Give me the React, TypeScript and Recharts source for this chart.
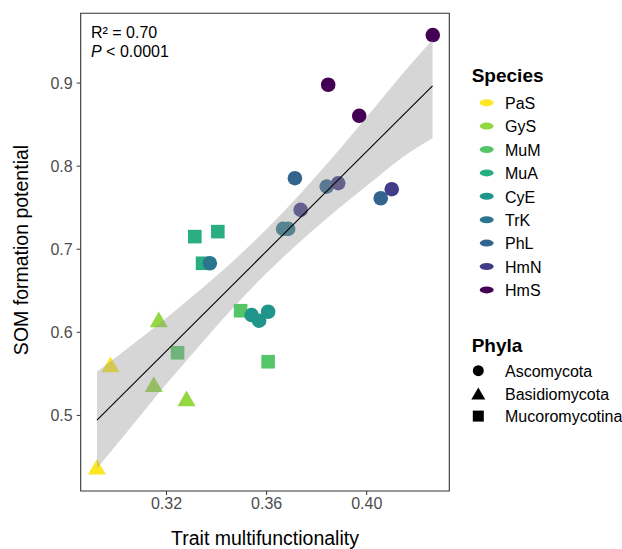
import React from "react";
import {
  ComposedChart,
  Scatter,
  Area,
  Line,
  XAxis,
  YAxis,
  ReferenceArea,
} from "recharts";

const FONT = '"Liberation Sans", Arial, Helvetica, sans-serif';

// species legend order + colours (viridis-like)
const species = ["PaS", "GyS", "MuM", "MuA", "CyE", "TrK", "PhL", "HmN", "HmS"];
const speciesColors = [
  "#fde725",
  "#93d741",
  "#55c667",
  "#29af7f",
  "#1f958b",
  "#2a768e",
  "#33648e",
  "#413d87",
  "#440154",
];
const speciesPhylum = [
  "Basidiomycota",
  "Basidiomycota",
  "Mucoromycotina",
  "Mucoromycotina",
  "Ascomycota",
  "Ascomycota",
  "Ascomycota",
  "Ascomycota",
  "Ascomycota",
];
const phyla = ["Ascomycota", "Basidiomycota", "Mucoromycotina"];

// trait multifunctionality (x) and SOM formation potential (y) per species
const pasX = [0.2976, 0.2922];
const pasY = [0.5614, 0.4381];
const gysX = [0.3169, 0.3149, 0.328];
const gysY = [0.6156, 0.5377, 0.5205];
const mumX = [0.3496, 0.3606, 0.3244];
const mumY = [0.626, 0.5646, 0.5754];
const muaX = [0.3313, 0.3405, 0.3344];
const muaY = [0.7152, 0.7212, 0.6831];
const cyeX = [0.354, 0.357, 0.3606];
const cyeY = [0.6208, 0.614, 0.6248];
const trkX = [0.3666, 0.3686, 0.3373];
const trkY = [0.7245, 0.7245, 0.6831];
const phlX = [0.3713, 0.4056, 0.384];
const phlY = [0.7855, 0.7614, 0.7754];
const hmnX = [0.41, 0.3886, 0.3736];
const hmnY = [0.7723, 0.7795, 0.7474];
const hmsX = [0.4264, 0.3846, 0.397];
const hmsY = [0.9578, 0.898, 0.8606];

const xs = [pasX, gysX, mumX, muaX, cyeX, trkX, phlX, hmnX, hmsX];
const ys = [pasY, gysY, mumY, muaY, cyeY, trkY, phlY, hmnY, hmsY];

// fitted line and its confidence band
const fitX = [0.2922, 0.4263];
const fitY = [0.4944, 0.8967];
const bandX = [0.2922, 0.305, 0.3169, 0.33, 0.345, 0.36, 0.375, 0.39, 0.405, 0.415, 0.4263];
const bandLow = [0.4361, 0.483, 0.527, 0.5731, 0.6242, 0.6713, 0.7136, 0.7521, 0.7885, 0.8121, 0.8337];
const bandHigh = [0.5525, 0.582, 0.61, 0.6425, 0.6814, 0.7243, 0.772, 0.8235, 0.8771, 0.9135, 0.9522];

const xTicks = [0.32, 0.36, 0.4];
const yTicks = [0.5, 0.6, 0.7, 0.8, 0.9];
const xDomain: [number, number] = [0.2857, 0.433];
const yDomain: [number, number] = [0.409, 0.984];

const bandData = bandX.map((x, i) => ({ x, band: [bandLow[i], bandHigh[i]] }));
const fitData = fitX.map((x, i) => ({ x, y: fitY[i] }));

function Marker(props: any) {
  const { cx, cy, fill, kind } = props;
  if (cx == null || cy == null) return null;
  if (kind === "Basidiomycota") {
    const w = 18;
    const h = 15.6;
    return (
      <polygon
        points={`${cx - w / 2},${cy + h / 2} ${cx + w / 2},${cy + h / 2} ${cx},${cy - h / 2}`}
        fill={fill}
      />
    );
  }
  if (kind === "Mucoromycotina") {
    return <rect x={cx - 6.8} y={cy - 6.8} width={13.6} height={13.6} fill={fill} />;
  }
  return <circle cx={cx} cy={cy} r={7.3} fill={fill} />;
}

function PhylumKey({ kind, x, y }: { kind: string; x: number; y: number }) {
  if (kind === "Basidiomycota") {
    return <polygon points={`${x - 7},${y + 6} ${x + 7},${y + 6} ${x},${y - 6}`} fill="#000" />;
  }
  if (kind === "Mucoromycotina") {
    return <rect x={x - 5.5} y={y - 5.5} width={11} height={11} fill="#000" />;
  }
  return <circle cx={x} cy={y} r={5.5} fill="#000" />;
}

export default function App() {
  const tickStyle = { fontSize: 16, fill: "#4d4d4d", fontFamily: FONT };
  return (
    <div style={{ position: "relative", width: 622, height: 549, background: "#fff" }}>
      <style>{"body{margin:0}"}</style>
      <ComposedChart
        width={622}
        height={549}
        margin={{ top: 13.3, right: 172.7, bottom: 28, left: 0 }}
      >
        <XAxis
          type="number"
          dataKey="x"
          domain={xDomain}
          ticks={xTicks}
          allowDataOverflow
          tickFormatter={(v) => v.toFixed(2)}
          axisLine={false}
          tickLine={{ stroke: "#333" }}
          tickSize={4}
          tickMargin={3}
          height={30}
          tick={tickStyle}
        />
        <YAxis
          type="number"
          domain={yDomain}
          ticks={yTicks}
          allowDataOverflow
          tickFormatter={(v) => v.toFixed(1)}
          axisLine={false}
          tickLine={{ stroke: "#333" }}
          tickSize={4}
          tickMargin={4}
          width={80.7}
          tick={tickStyle}
        />
        {species.map((s, i) => (
          <Scatter
            key={s}
            name={s}
            data={xs[i].map((x, j) => ({ x, y: ys[i][j] }))}
            dataKey="y"
            fill={speciesColors[i]}
            isAnimationActive={false}
            shape={(p: any) => <Marker {...p} fill={speciesColors[i]} kind={speciesPhylum[i]} />}
          />
        ))}
        <Area
          data={bandData}
          dataKey="band"
          type="monotone"
          stroke="none"
          fill="#999999"
          fillOpacity={0.4}
          isAnimationActive={false}
          zIndex={700}
        />
        <Line
          data={fitData}
          dataKey="y"
          stroke="#000"
          strokeWidth={1.1}
          dot={false}
          activeDot={false}
          isAnimationActive={false}
          zIndex={800}
        />
        <ReferenceArea
          x1={xDomain[0]}
          x2={xDomain[1]}
          y1={yDomain[0]}
          y2={yDomain[1]}
          fill="none"
          stroke="#333"
          strokeWidth={1.1}
          zIndex={900}
        />
      </ComposedChart>
      <svg
        width={622}
        height={549}
        style={{ position: "absolute", left: 0, top: 0, pointerEvents: "none" }}
        fontFamily={FONT}
      >
        <text x={91} y={37.7} fontSize={16} fill="#000">
          R² = 0.70
        </text>
        <text x={91} y={56.7} fontSize={16} fill="#000">
          <tspan fontStyle="italic">P</tspan>
          <tspan> &lt; 0.0001</tspan>
        </text>
        <text x={265} y={545} fontSize={19.5} textAnchor="middle" fill="#000">
          Trait multifunctionality
        </text>
        <text
          x={27.5}
          y={250}
          fontSize={19.5}
          textAnchor="middle"
          fill="#000"
          transform="rotate(-90, 27.5, 250)"
        >
          SOM formation potential
        </text>
        <text x={471.7} y={81.7} fontSize={19} fontWeight="bold" fill="#000">
          Species
        </text>
        {species.map((s, i) => {
          const y = 102.7 + 23.4 * i;
          return (
            <g key={s}>
              <ellipse cx={486.7} cy={y} rx={7} ry={3.5} fill={speciesColors[i]} />
              <text x={505} y={y + 6.3} fontSize={16} fill="#000">
                {s}
              </text>
            </g>
          );
        })}
        <text x={471.7} y={351.7} fontSize={19} fontWeight="bold" fill="#000">
          Phyla
        </text>
        {phyla.map((p, i) => {
          const y = 370.7 + 22.7 * i;
          return (
            <g key={p}>
              <PhylumKey kind={p} x={478.3} y={y} />
              <text x={505} y={y + 6.3} fontSize={16} fill="#000">
                {p}
              </text>
            </g>
          );
        })}
      </svg>
    </div>
  );
}
